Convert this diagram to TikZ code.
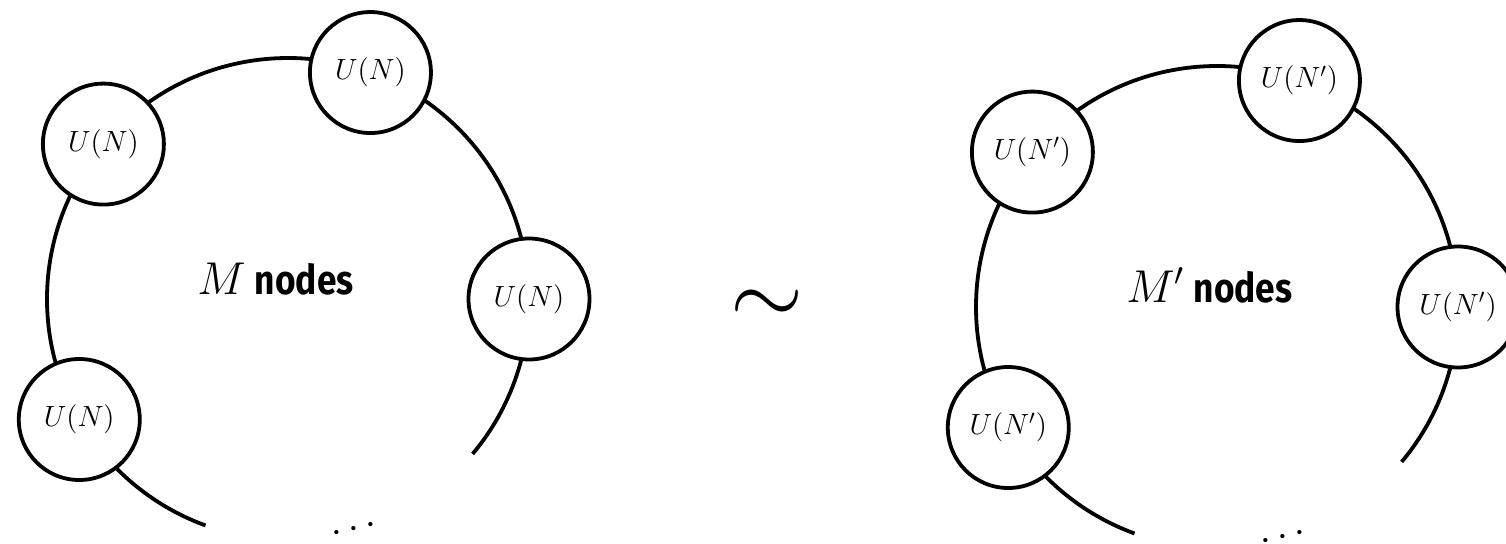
\RequirePackage{fix-cm}
\documentclass[tikz,border=0pt]{standalone}
\usepackage{fontspec}
\setsansfont{Fira Sans}
\usepackage{graphicx}
\usetikzlibrary{calc}
\begin{document}
\begin{tikzpicture}[x=0.5pt,y=0.5pt,
  ring/.style={line width=1.9pt},
  gauge/.style={circle,draw,fill=white,line width=1.9pt,inner sep=0pt,
    minimum size=60.5pt,font=\fontsize{14.6}{17}\selectfont},
  count/.style={anchor=base west,inner sep=0pt,font=\fontsize{23}{28}\selectfont},
  more/.style={inner sep=0pt,font=\fontsize{20}{24}\selectfont,rotate=12},
  equiv/.style={inner sep=0pt,font=\fontsize{47}{56}\selectfont}]
\newcommand{\nodesword}{{\sffamily\bfseries\fontsize{20.5}{24}\selectfont\scalebox{0.86}[1]{nodes}}}
\useasboundingbox (0,0) rectangle (1506,543);
\clip (0,0) rectangle (1506,543);

% left quiver: ring of U(N) gauge nodes
\coordinate (OL) at (288,244);
\draw[ring] ($(OL)+(-40:241)$) arc[start angle=-40,end angle=250,radius=241];
\foreach \a/\n in {0/c,70/a,140/b,210/d}
  \node[gauge] (L\n) at ($(OL)+(\a:241)$) {$U(N)$};
\node[count] (Lcount) at (197,249) {$M$\hspace{0.2em}\nodesword};
\node[more] (Ldots) at ($(OL)+(286:240)$) {$\cdots$};

% equivalence sign
\node[equiv] (eq) at (767,236) {$\sim$};

% right quiver: ring of U(N') gauge nodes
\coordinate (OR) at (1217,236);
\draw[ring] ($(OR)+(-40:241)$) arc[start angle=-40,end angle=250,radius=241];
\foreach \a/\n in {0/c,70/a,140/b,210/d}
  \node[gauge] (R\n) at ($(OR)+(\a:241)$) {$U(N')$};
\node[count] (Rcount) at (1126,241) {$M'$\hspace{0.2em}\nodesword};
\node[more] (Rdots) at ($(OR)+(286:240)$) {$\cdots$};
\end{tikzpicture}
\end{document}
